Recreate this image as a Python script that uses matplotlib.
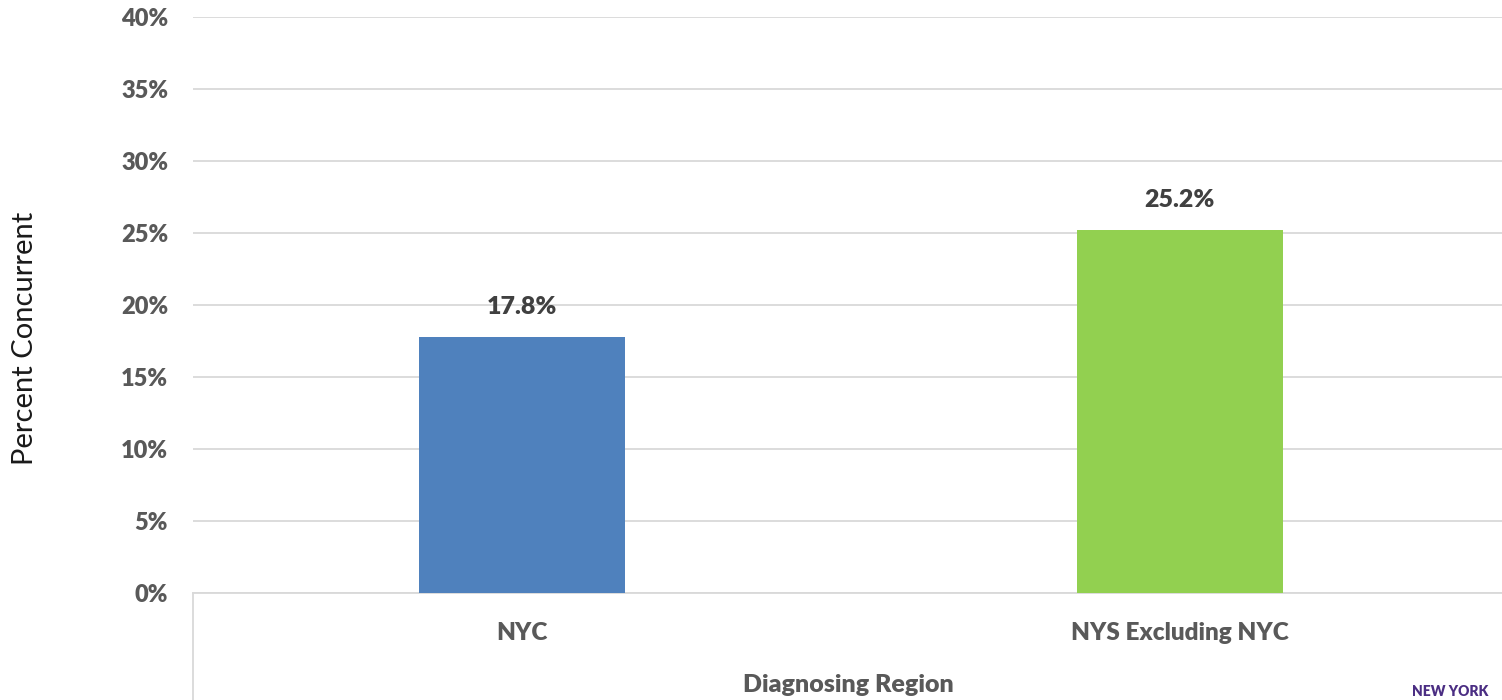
import matplotlib.pyplot as plt
from matplotlib.ticker import PercentFormatter

regions = ['NYC', 'NYS Excluding NYC']
pct_concurrent = [17.8, 25.2]
bar_colors = ['#4F81BD', '#92D050']
y_ticks = [0, 5, 10, 15, 20, 25, 30, 35, 40]

plt.rcParams['font.family'] = ['Lato', 'DejaVu Sans']

fig = plt.figure(figsize=(15.02, 7.0), dpi=100)
ax = fig.add_axes([193 / 1502, 1 - 593 / 700, 1 - 193 / 1502, (593 - 17) / 700])

x = range(len(regions))
bars = ax.bar(x, pct_concurrent, width=0.313, color=bar_colors, zorder=3)

ax.set_xlim(-0.5, 1.49)
ax.set_ylim(0, 40)
ax.set_yticks(y_ticks)
ax.yaxis.set_major_formatter(PercentFormatter(decimals=0))
ax.grid(axis='y', color='#D9D9D9', linewidth=1.3, zorder=0)
for s in ['top', 'right', 'left']:
    ax.spines[s].set_visible(False)
ax.spines['bottom'].set_color('#D9D9D9')
ax.spines['bottom'].set_linewidth(1.3)
ax.tick_params(axis='y', length=0, pad=18, labelsize=17, labelcolor='#595959')
for lbl in ax.get_yticklabels():
    lbl.set_fontweight('heavy')
ax.set_xticks([])

# category labels and axis title below the axes
for i, r in enumerate(regions):
    ax.text(i, -2.8, r, ha='center', va='center', fontsize=17.5, fontweight='heavy',
            color='#595959', transform=ax.transData, clip_on=False)
fig.text(848 / 1502, 1 - 685 / 700, 'Diagnosing Region', ha='center', va='center',
         fontsize=18, fontweight='heavy', color='#595959')

# left boundary line of the category box
fig.add_artist(plt.Line2D([193 / 1502, 193 / 1502], [0, 1 - 593 / 700],
                          color='#D9D9D9', linewidth=1.3))

for b, v in zip(bars, pct_concurrent):
    ax.text(b.get_x() + b.get_width() / 2, v + 1.3, f'{v:.1f}%', ha='center',
            va='bottom', fontsize=18, fontweight='heavy', color='#404040')

fig.text(25 / 1502, 1 - 338 / 700, 'Percent Concurrent', rotation=90,
         ha='center', va='center', fontsize=21, color='#1a1a1a')

# logo fragment in the corner
fig.text(1412 / 1502, 1 - 691 / 700, 'NEW YORK', ha='left', va='center',
         fontsize=10, fontweight='heavy', color='#4B2E83')

fig.savefig('out.png', dpi=100)
